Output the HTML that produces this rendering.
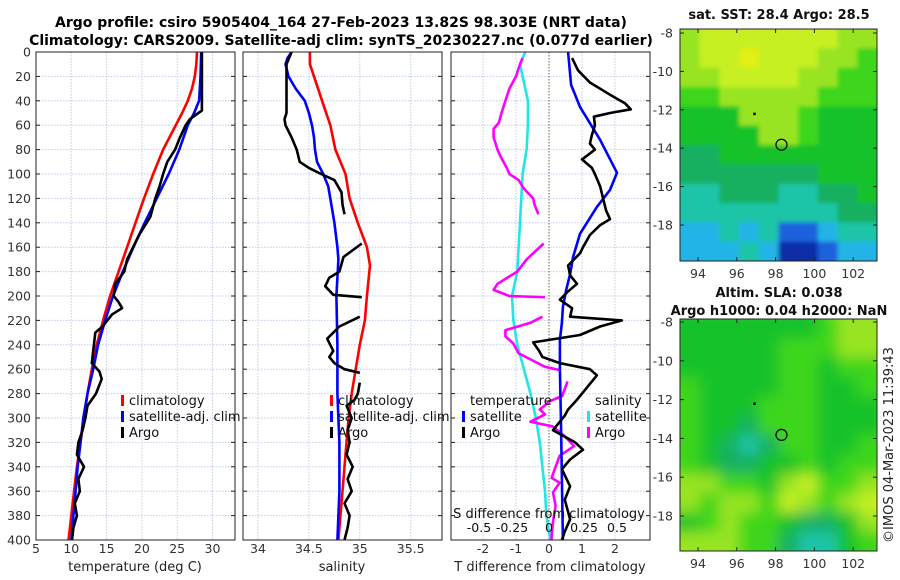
<!DOCTYPE html>
<html><head><meta charset="utf-8">
<style>
body{margin:0;background:#fff;}
svg{display:block;font-family:"DejaVu Sans","Liberation Sans",sans-serif;}
</style></head>
<body>
<svg id="fig" width="900" height="580" viewBox="0 0 900 580" xmlns="http://www.w3.org/2000/svg">
<defs>
<clipPath id="c1"><rect x="36" y="52" width="199" height="488"/></clipPath>
<clipPath id="c2"><rect x="243" y="52" width="199" height="488"/></clipPath>
<clipPath id="c3"><rect x="451" y="52" width="198" height="488"/></clipPath>
<clipPath id="cm1"><rect x="680" y="29" width="197" height="232"/></clipPath>
<clipPath id="cm2"><rect x="680" y="319" width="197" height="232"/></clipPath>
<filter id="blur"><feGaussianBlur stdDeviation="7"/></filter>
<filter id="blur2"><feGaussianBlur stdDeviation="2"/></filter>
</defs>
<text x="341" y="27" text-anchor="middle" font-size="14" font-weight="bold">Argo profile: csiro 5905404_164 27-Feb-2023 13.82S 98.303E (NRT data)</text>
<text x="341" y="45" text-anchor="middle" font-size="14" font-weight="bold">Climatology: CARS2009. Satellite-adj clim: synTS_20230227.nc (0.077d earlier)</text>
<g id="root"></g>
</svg>
<script>
// ---------- DATA ----------
const tClimDepth=[0,10,20,30,40,50,60,80,100,120,140,160,180,200,220,240,260,280,300,320,340,360,380,400];
const tClimVal=[27.8,27.7,27.5,27.1,26.5,25.7,24.8,23.0,21.6,20.3,19.1,17.9,16.7,15.5,14.5,13.6,12.9,12.3,11.8,11.3,10.8,10.4,10.0,9.6];
const tSatDepth=[0,20,40,50,60,80,100,120,140,160,180,200,220,240,260,280,300,340,400];
const tSatVal=[28.4,28.3,28.1,27.4,26.5,25.3,23.8,22.1,20.4,18.8,17.3,15.9,14.8,13.8,13.1,12.3,11.7,10.9,10.0];
const tArgoDepth=[0,20,48,50,55,60,70,80,90,100,110,120,135,150,170,180,190,200,205,210,215,225,230,245,255,262,268,280,290,300,310,320,330,340,350,360,370,380,390,400];
const tArgoVal=[28.5,28.5,28.5,28.0,26.8,26.2,25.4,24.7,23.6,23.0,22.5,21.9,21.2,19.6,17.9,17.5,16.2,16.0,16.7,17.2,15.8,14.4,13.4,13.1,12.9,14.0,14.3,13.5,12.3,12.0,11.6,11.0,10.8,11.8,11.0,11.2,10.5,10.8,10.3,10.1];
const sClimDepth=[0,10,20,40,60,80,100,120,140,160,175,200,220,240,260,280,300,330,360,400];
const sClimVal=[34.51,34.51,34.55,34.63,34.71,34.76,34.86,34.90,34.98,35.07,35.10,35.07,35.05,35.00,34.96,34.92,34.89,34.86,34.83,34.79];
const sSatDepth=[0,5,10,20,30,40,50,60,70,80,90,100,110,120,140,160,170,200,240,280,320,360,400];
const sSatVal=[34.33,34.29,34.27,34.30,34.37,34.46,34.50,34.53,34.55,34.56,34.58,34.64,34.69,34.71,34.75,34.78,34.79,34.77,34.78,34.78,34.80,34.80,34.78];
const sArgoDepth=[[0,10,20,50,55,60,70,80,90,95,100,105,115,125,133],[157,168,180,185,192,199,201],[217,225,235,245,250,255,260,263],[271,280,285,290,300,310,320,330,340,350,360,370,380,390,400]];
const sArgoVal=[[34.33,34.28,34.28,34.28,34.26,34.27,34.33,34.38,34.41,34.50,34.62,34.75,34.82,34.83,34.85],[35.02,34.84,34.80,34.70,34.66,34.74,35.02],[35.00,34.80,34.68,34.74,34.70,34.75,34.85,35.00],[35.00,34.98,34.95,34.87,34.92,34.88,34.90,34.87,34.93,34.88,34.92,34.85,34.90,34.88,34.85]];
const dTSatDepth=[0,27,45,72,99,113,127,149,168,182,195,209,222,236,260,300,350,400];
const dTSatVal=[0.58,0.67,0.94,1.55,2.06,1.85,1.45,0.94,0.73,0.64,0.52,0.42,0.39,0.33,0.33,0.36,0.39,0.42];
const dTArgoDepth=[5,15,25,35,42,47,50,53,60,68,75,80,85,88,95,100,110,120,130,137,142,150,160,165,175,183,190,197,203,210,217,220,225,232,238,245,250,255,260,265,277,285,293,298,310,320,326,334,342,356,367,383,393,400];
const dTArgoVal=[0.70,0.88,1.24,1.85,2.30,2.48,1.85,1.36,1.39,1.30,1.24,1.39,1.15,1.00,1.30,1.39,1.55,1.64,1.73,1.85,1.55,1.24,1.03,0.94,0.58,0.64,0.85,0.55,0.33,0.70,0.64,2.21,1.55,0.94,-0.48,-0.30,-0.20,0.33,1.24,1.45,1.09,0.85,0.58,0.48,0.12,0.79,1.03,0.64,0.39,0.64,0.48,0.64,0.48,0.39];
const dSSatDepth=[0,10,40,60,80,100,120,140,160,180,200,220,240,260,280,300,320,340,360,380,400];
const dSSatVal=[-0.18,-0.22,-0.16,-0.16,-0.17,-0.20,-0.21,-0.22,-0.23,-0.24,-0.28,-0.27,-0.24,-0.19,-0.14,-0.10,-0.07,-0.05,-0.03,-0.02,0.01];
const dSArgoDepth=[[5,10,20,30,40,50,58,63,70,80,85,95,100,105,112,120,125,133],[157,170,180,190,195,200,201],[217,222,228,233,239,247,252,258,261],[270,282,286,293,297,303,307,315,323,331,340,349,353,361,372,385,397,400]];
const dSArgoVal=[[-0.20,-0.22,-0.25,-0.30,-0.33,-0.36,-0.38,-0.42,-0.42,-0.39,-0.37,-0.32,-0.30,-0.23,-0.19,-0.12,-0.11,-0.08],[-0.04,-0.17,-0.24,-0.39,-0.42,-0.30,-0.03],[-0.05,-0.14,-0.33,-0.33,-0.27,-0.23,-0.14,-0.03,0.09],[0.14,0.10,0.01,-0.07,-0.03,-0.14,0.03,0.12,0.19,0.08,0.05,0.02,0.08,0.03,0.05,0.03,0.02,0.02]];
const depthTicks=[0,20,40,60,80,100,120,140,160,180,200,220,240,260,280,300,320,340,360,380,400];
const tempTicks=[5,10,15,20,25,30];
const salTicks=[34,34.5,35,35.5];
const dTTicks=[-2,-1,0,1,2];
const dSTickLabels=["-0.5","-0.25","0","0.25","0.5"];
const dSTicks=[-0.5,-0.25,0,0.25,0.5];
const latTicks=[-8,-10,-12,-14,-16,-18];
const lonTicks=[94,96,98,100,102];
const sstGrid=[
[7,8,8,8,8,8,8,8,7,7],[7,8,8,9,8,8,8,7,7,6],[7,7,8,8,8,8,7,7,6,6],[6,6,7,7,7,7,7,6,6,6],
[5,5,5,7,7,7,6,5,5,5],[5,5,5,5,7,7,6,5,5,5],[4,4,5,5,5,5,5,5,5,5],[4,4,4,4,4,4,4,5,5,5],
[3,3,4,4,4,3,3,4,4,5],[3,3,3,3,3,3,3,3,4,4],[2,2,3,2,3,1,1,2,3,3],[2,2,2,3,2,0,0,1,2,2]];
const slaGrid=[
[5,5,5,5,5,5,5,6,7,7],[5,5,5,5,5,6,6,6,7,7],[5,5,5,5,5,6,6,5,6,6],[6,5,5,5,5,6,6,5,5,6],
[6,5,5,5,6,6,6,5,5,5],[6,5,5,4,6,6,6,5,5,5],[6,5,4,3,4,6,6,5,5,6],[6,5,4,4,5,5,6,5,6,6],
[7,7,6,6,5,7,8,6,6,7],[7,6,7,7,6,8,7,6,7,8],[5,6,7,6,6,5,4,4,5,7],[7,7,7,6,6,4,3,3,5,6]];
const palette=["#0a2ea8","#1c62dc","#22b4e6","#1ec4a8","#14b060","#12c22c","#3ed61e","#98e422","#c6f020","#e2ee18"];
const floatLon=98.303, floatLat=-13.82, dotLon=96.9, dotLat=-12.2;

// ---------- DRAWING ----------
const NS="http://www.w3.org/2000/svg";
const root=document.getElementById('root');
function mk(tag,attrs,parent){const e=document.createElementNS(NS,tag);for(const k in attrs)e.setAttribute(k,attrs[k]);(parent||root).appendChild(e);return e;}
const yD=d=>52+d*1.22;
const xT=v=>36+(v-5)*7.06;
const xS=v=>258+(v-34)*101.8;
const xdT=v=>549+v*33;
const xdS=v=>549+v*132;
const panels=[{x:36,name:'temperature'},{x:243,name:'salinity'},{x:451,name:'difference'}];
const W=199;
panels.forEach((p,i)=>{
  const g=mk('g',{});
  
  
  depthTicks.forEach(d=>{
    const l=mk('line',{x1:p.x,x2:p.x+W,y1:yD(d),y2:yD(d),stroke:'#c4cbec','stroke-width':1,'stroke-dasharray':'1.5,1.5'},g);
    
    
    mk('line',{x1:p.x,x2:p.x+4,y1:yD(d),y2:yD(d),stroke:'#222'},g);
    mk('line',{x1:p.x+W-4,x2:p.x+W,y1:yD(d),y2:yD(d),stroke:'#222'},g);
  });
});
tempTicks.forEach(t=>{mk('line',{x1:xT(t),x2:xT(t),y1:52,y2:540,stroke:'#c4cbec','stroke-dasharray':'1.5,1.5'});
  const tx=mk('text',{x:xT(t),y:553,'text-anchor':'middle','font-size':12.5,fill:'#333'});tx.textContent=t;
  });
salTicks.forEach(t=>{mk('line',{x1:xS(t),x2:xS(t),y1:52,y2:540,stroke:'#c4cbec','stroke-dasharray':'1.5,1.5'});
  const tx=mk('text',{x:xS(t),y:553,'text-anchor':'middle','font-size':12.5,fill:'#333'});tx.textContent=t;
  });
dTTicks.forEach(t=>{mk('line',{x1:xdT(t),x2:xdT(t),y1:52,y2:540,stroke:t===0?'#6a6a3a':'#c4cbec','stroke-dasharray':'1.5,1.5'});
  const tx=mk('text',{x:xdT(t),y:553,'text-anchor':'middle','font-size':12.5,fill:'#333'});tx.textContent=t;
  });
depthTicks.forEach(d=>{const tx=mk('text',{x:31,y:yD(d)+4.5,'text-anchor':'end','font-size':12.5,fill:'#333'});tx.textContent=d;
  });
function poly(ds,vs,xf,color,clip,name,w){
  const pts=ds.map((d,i)=>xf(vs[i]).toFixed(1)+','+yD(d).toFixed(1)).join(' ');
  const e=mk('polyline',{points:pts,fill:'none',stroke:color,'stroke-width':w||2.6,'stroke-linejoin':'round','clip-path':'url(#'+clip+')'});
  
  
}
poly(tClimDepth,tClimVal,xT,'#ff0000','c1','temperature-climatology-line');
poly(tSatDepth,tSatVal,xT,'#0000ff','c1','temperature-satellite-line');
poly(tArgoDepth,tArgoVal,xT,'#000','c1','temperature-argo-line');
poly(sClimDepth,sClimVal,xS,'#ff0000','c2','salinity-climatology-line');
poly(sSatDepth,sSatVal,xS,'#0000ff','c2','salinity-satellite-line');
sArgoDepth.forEach((ds,i)=>poly(ds,sArgoVal[i],xS,'#000','c2','salinity-argo-line'));
poly(dSSatDepth,dSSatVal,xdS,'#22e6e6','c3','s-diff-satellite-line');
dSArgoDepth.forEach((ds,i)=>poly(ds,dSArgoVal[i],xdS,'#ff00ff','c3','s-diff-argo-line'));
poly(dTSatDepth,dTSatVal,xdT,'#0000ff','c3','t-diff-satellite-line');
poly(dTArgoDepth,dTArgoVal,xdT,'#000','c3','t-diff-argo-line');
panels.forEach(p=>{mk('rect',{x:p.x,y:52,width:W,height:488,fill:'none',stroke:'#222','stroke-width':1});});
[['temperature (deg C)',135,'temperature-axis-title'],['salinity',342,'salinity-axis-title'],['T difference from climatology',550,'t-diff-axis-title']].forEach(a=>{
  const t=mk('text',{x:a[1],y:571,'text-anchor':'middle','font-size':13,fill:'#222'});t.textContent=a[0];
  });
let st=mk('text',{x:549,y:518,'text-anchor':'middle','font-size':13,fill:'#111'});st.textContent='S difference from climatology';

dSTicks.forEach((v,i)=>{const t=mk('text',{x:xdS(v)+(v<0?-4:v>0?2:0),y:532,'text-anchor':'middle','font-size':12.5,fill:'#111'});t.textContent=dSTickLabels[i];
  });
function legend(x,y,color,label,name){
  const g=mk('g',{});
  
  
  mk('rect',{x:x,y:y-10,width:3,height:11,fill:color},g);
  const t=mk('text',{x:x+8,y:y,'font-size':13,fill:'#111'},g);t.textContent=label;
}
legend(121,405,'#ff0000','climatology','legend-climatology');
legend(121,421,'#0000ff','satellite-adj. clim','legend-satellite');
legend(121,437,'#000','Argo','legend-argo');
legend(330,405,'#ff0000','climatology','legend-climatology-salinity');
legend(330,421,'#0000ff','satellite-adj. clim','legend-satellite-salinity');
legend(330,437,'#000','Argo','legend-argo-salinity');
let lt=mk('text',{x:470,y:405,'font-size':13,fill:'#111'});lt.textContent='temperature';

legend(462,421,'#0000ff','satellite','legend-t-satellite');
legend(462,437,'#000','Argo','legend-t-argo');
let ls=mk('text',{x:595,y:405,'font-size':13,fill:'#111'});ls.textContent='salinity';

legend(587,421,'#22e6e6','satellite','legend-s-satellite');
legend(587,437,'#ff00ff','Argo','legend-s-argo');

function drawMap(grid,top,clip,blur,name,yLat){
  const g=mk('g',{'clip-path':'url(#'+clip+')'});
  
  
  const inner=mk('g',{filter:blur?'url(#blur)':'url(#blur2)'},g);
  const cw=197/10,ch=232/12;
  grid.forEach((row,r)=>row.forEach((c,k)=>{
    const pad=12;
    const x0=680+k*cw-(k===0?pad:0),y0=top+r*ch-(r===0?pad:0);
    const w=cw+0.6+(k===0||k===9?pad:0),h=ch+0.6+(r===0||r===11?pad:0);
    const e=mk('rect',{x:x0,y:y0,width:w,height:h,fill:palette[c]},inner);
    
    
  }));
  const xL=l=>698+(l-94)*19.4;
  mk('rect',{x:680,y:top,width:197,height:232,fill:'none',stroke:'#222'});
  const circ=mk('ellipse',{cx:xL(floatLon),cy:yLat(floatLat),rx:5.5,ry:5.5,fill:'none',stroke:'#000','stroke-width':1.2});
  
  mk('rect',{x:xL(dotLon)-1,y:yLat(dotLat)-1,width:2.5,height:2.5,fill:'#000'});
  latTicks.forEach(l=>{const t=mk('text',{x:673,y:yLat(l)+4.5,'text-anchor':'end','font-size':12.5,fill:'#333'});t.textContent=l;
    
    mk('line',{x1:877,x2:873,y1:yLat(l),y2:yLat(l),stroke:'#222'});
    mk('line',{x1:680,x2:684,y1:yLat(l),y2:yLat(l),stroke:'#222'});});
  lonTicks.forEach(l=>{const t=mk('text',{x:xL(l),y:top+232+17,'text-anchor':'middle','font-size':12.5,fill:'#333'});t.textContent=l;
    
    mk('line',{x1:xL(l),x2:xL(l),y1:top,y2:top+4,stroke:'#222'});
    mk('line',{x1:xL(l),x2:xL(l),y1:top+232,y2:top+228,stroke:'#222'});});
}
drawMap(sstGrid,29,'cm1',false,'sst-map',l=>33+(-8-l)*19.2);
drawMap(slaGrid,319,'cm2',true,'sla-map',l=>322+(-8-l)*19.4);
[['sat. SST: 28.4 Argo: 28.5',19,'sst-map-title'],['Altim. SLA: 0.038',297,'sla-map-title-1'],['Argo h1000: 0.04 h2000: NaN',315,'sla-map-title-2']].forEach(a=>{
  const t=mk('text',{x:779,y:a[1],'text-anchor':'middle','font-size':13,'font-weight':'bold',fill:'#111'});t.textContent=a[0];
  });
const cr=mk('text',{x:0,y:0,'text-anchor':'middle','font-size':13,fill:'#222',transform:'translate(893,445) rotate(-90)'});
cr.textContent='©IMOS 04-Mar-2023 11:39:43';

</script>
</body></html>
